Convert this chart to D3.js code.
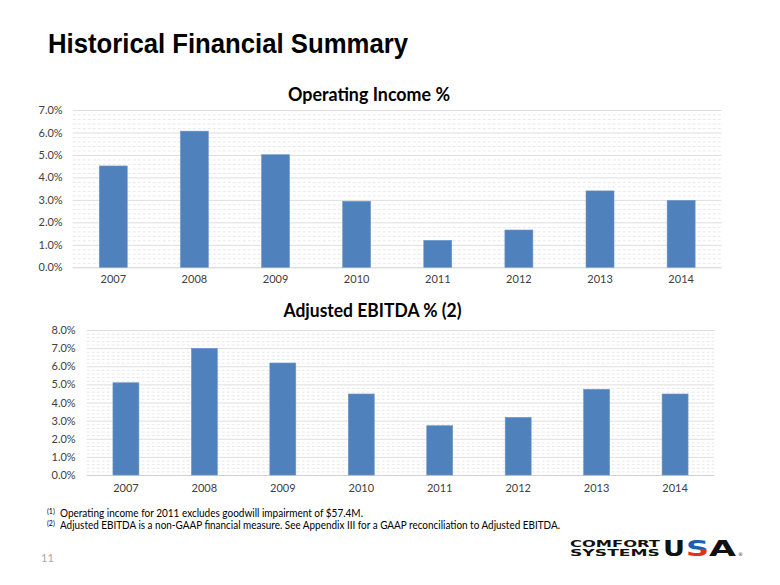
<!DOCTYPE html>
<html><head><meta charset="utf-8">
<script src="https://cdn.jsdelivr.net/npm/d3@7"></script>
<style>body{margin:0;background:#fff}svg{display:block}</style>
</head><body>
<svg id="c" width="780" height="585"></svg>
<script>
const years = ["2007","2008","2009","2010","2011","2012","2013","2014"];
const operatingIncome = [4.51, 6.06, 5.01, 2.94, 1.20, 1.66, 3.40, 2.98];
const adjustedEbitda = [5.09, 6.99, 6.18, 4.47, 2.72, 3.18, 4.73, 4.47];
const opTicks = [0,1,2,3,4,5,6,7];
const ebitdaTicks = [0,1,2,3,4,5,6,7,8];
const pageTitle = "Historical Financial Summary";
const chartTitles = ["Operating Income %", "Adjusted EBITDA % (2)"];
const footnotes = [
  ["(1)", "Operating income for 2011 excludes goodwill impairment of $57.4M."],
  ["(2)", "Adjusted EBITDA is a non-GAAP financial measure. See Appendix III for a GAAP reconciliation to Adjusted EBITDA."]
];
const footnoteWidths = [303, 500];
const pageNumber = "11";

const svg = d3.select("#c");
const BAR = "#4f81bd";
const LBL = "Lato, 'Open Sans', sans-serif";

svg.append("text").attr("x",48).attr("y",53).attr("font-family","'Liberation Sans', Arial, sans-serif")
  .attr("font-weight","bold").attr("font-size",27).attr("fill","#000").attr("textLength",360).attr("lengthAdjust","spacingAndGlyphs").text(pageTitle);

function chart(cfg){
  const g = svg.append("g");
  const x = d3.scaleBand().domain(years).range([cfg.x0,cfg.x1]).paddingInner(cfg.pad).paddingOuter(cfg.pad/2);
  const y = d3.scaleLinear().domain([0,cfg.max]).range([cfg.y0,cfg.y1]);
  const minor = d3.range(0, cfg.max*5+1).map(d=>d/5).filter(d=>Math.abs(d-Math.round(d))>1e-6);
  g.append("g").call(d3.axisLeft(y).tickValues(minor).tickSize(-(cfg.x1-cfg.x0)).tickFormat(""))
    .attr("transform",`translate(${cfg.x0},0)`)
    .call(a=>a.select(".domain").remove())
    .call(a=>a.selectAll("line").attr("stroke","#e8e8e8").attr("stroke-dasharray","3,2"));
  g.append("g").attr("transform",`translate(${cfg.x0},0)`)
    .call(d3.axisLeft(y).tickValues(cfg.ticks).tickSize(-(cfg.x1-cfg.x0)).tickPadding(cfg.lblPad).tickFormat(d=>d3.format(".1f")(d)+"%"))
    .call(a=>a.select(".domain").remove())
    .call(a=>a.selectAll("line").attr("stroke",d=>d===0?"#d0d0d0":"#dedede"))
    .call(a=>a.selectAll("text").attr("font-family",LBL).attr("font-size",11).attr("fill","#404040"));
  g.selectAll("rect.bar").data(cfg.values).join("rect").attr("class","bar")
    .attr("x",(d,i)=>x(years[i])).attr("width",x.bandwidth())
    .attr("y",d=>y(d)).attr("height",d=>y(0)-y(d))
    .attr("fill",BAR).attr("stroke","#6f97c8").attr("stroke-width",0.6);
  g.append("g").attr("transform",`translate(0,${cfg.y0})`)
    .call(d3.axisBottom(x).tickSize(0).tickPadding(cfg.xPad))
    .call(a=>a.select(".domain").remove())
    .call(a=>a.selectAll("text").attr("font-family",LBL).attr("font-size",11).attr("fill","#404040"));
  g.append("text").attr("x",cfg.tx).attr("y",cfg.ty).attr("text-anchor","middle")
    .attr("font-family",LBL).attr("font-weight","bold").attr("font-size",18).attr("fill","#000")
    .attr("textLength",cfg.tw).attr("lengthAdjust","spacingAndGlyphs").text(cfg.title);
}

chart({x0:72.7,x1:721.7,y0:267.3,y1:110,max:7,ticks:opTicks,values:operatingIncome,pad:0.655,lblPad:10,xPad:8,
       tx:369,ty:101,tw:162,title:chartTitles[0]});
chart({x0:86.7,x1:714.3,y0:475,y1:330,max:8,ticks:ebitdaTicks,values:adjustedEbitda,pad:0.669,lblPad:11,xPad:9,
       tx:372.5,ty:317,tw:178,title:chartTitles[1]});

footnotes.forEach((f,i)=>{
  const yy = 517+i*12;
  svg.append("text").attr("x",47).attr("y",yy-3.5).attr("font-family",LBL).attr("font-size",7).attr("fill","#000").text(f[0]);
  svg.append("text").attr("x",60).attr("y",yy).attr("font-family",LBL).attr("font-size",10.5).attr("fill","#000")
    .attr("textLength",footnoteWidths[i]).attr("lengthAdjust","spacingAndGlyphs").text(f[1]);
});
svg.append("text").attr("x",41).attr("y",562).attr("font-family",LBL).attr("font-size",11).attr("fill","#a6a6a6").text(pageNumber);

const lg = svg.append("g");
const defs = svg.append("defs");
const gr = defs.append("linearGradient").attr("id","sg").attr("x1","0").attr("y1","0").attr("x2","0").attr("y2","1");
gr.append("stop").attr("offset","0.5").attr("stop-color","#1f5fb0");
gr.append("stop").attr("offset","0.5").attr("stop-color","#e0311f");
lg.append("text").attr("x",570).attr("y",547).attr("font-family","'DejaVu Sans', sans-serif").attr("font-weight","bold")
  .attr("font-size",8.5).attr("textLength",90).attr("lengthAdjust","spacingAndGlyphs").attr("fill","#111").text("COMFORT");
lg.append("text").attr("x",570).attr("y",556).attr("font-family","'DejaVu Sans', sans-serif").attr("font-weight","bold")
  .attr("font-size",8.5).attr("textLength",90).attr("lengthAdjust","spacingAndGlyphs").attr("fill","#111").text("SYSTEMS");
const big = [["U","#111",663,22],["S","url(#sg)",686,23],["A","#111",709,27]];
big.forEach(b=>lg.append("text").attr("x",b[2]).attr("y",556).attr("font-family","'DejaVu Sans', sans-serif").attr("font-weight","bold")
  .attr("font-size",22).attr("textLength",b[3]).attr("lengthAdjust","spacingAndGlyphs").attr("fill",b[1]).text(b[0]));
lg.append("text").attr("x",738).attr("y",556).attr("font-family","'DejaVu Sans', sans-serif").attr("font-size",5).attr("fill","#333").text("®");
</script>
</body></html>
